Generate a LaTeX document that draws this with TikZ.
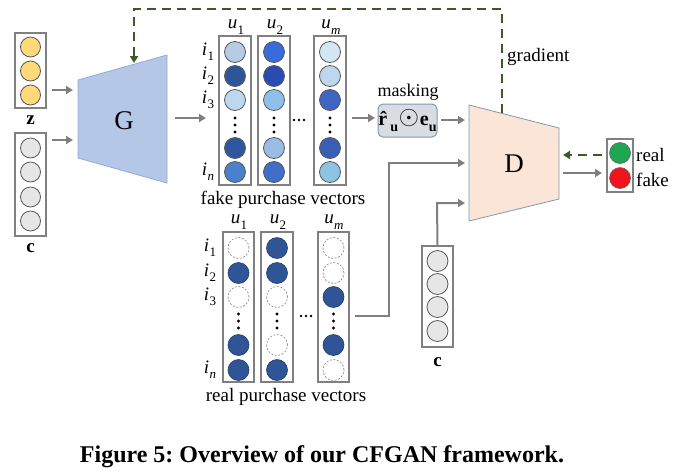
\documentclass[tikz,border=0pt]{standalone}
\usepackage{fontspec}
\setmainfont{Liberation Serif}
\usetikzlibrary{arrows.meta}
\definecolor{arrgray}{HTML}{7F7F7F}
\definecolor{boxgray}{HTML}{808080}
\definecolor{dgreen}{HTML}{3A5A26}
\definecolor{gfill}{HTML}{B4C7E7}
\definecolor{gdraw}{HTML}{8FAADC}
\definecolor{dfill}{HTML}{FBE5D6}
\definecolor{ddraw}{HTML}{8497B0}
\definecolor{yel}{HTML}{FFD97A}
\definecolor{lgray}{HTML}{E7E6E6}
\definecolor{mfill}{HTML}{D9DCE0}
\definecolor{rblue}{HTML}{2F5597}
\definecolor{fA}{HTML}{B7CCE4}
\definecolor{fB}{HTML}{2E5597}
\definecolor{fC}{HTML}{BDD7EE}
\definecolor{fD}{HTML}{30569F}
\definecolor{fE}{HTML}{4A80CC}
\definecolor{fF}{HTML}{3A6BDB}
\definecolor{fG}{HTML}{2A4CB0}
\definecolor{fH}{HTML}{8FC0EA}
\definecolor{fI}{HTML}{9ABDE5}
\definecolor{fJ}{HTML}{3F6FC8}
\definecolor{fK}{HTML}{D2E7F3}
\definecolor{fL}{HTML}{BDD7EE}
\definecolor{fM}{HTML}{3F64C4}
\definecolor{fN}{HTML}{3A5DB5}
\definecolor{fO}{HTML}{8CC4E4}
\newcommand{\txt}{\fontsize{19}{22}\selectfont}
\newcommand{\sub}[2]{#1\kern0.3pt\raisebox{-0.28em}{\fontsize{13}{13}\selectfont #2}}
\newcommand{\bsub}[2]{\textbf{#1}\raisebox{-0.3em}{\fontsize{14}{14}\selectfont\bfseries #2}}
\tikzset{
  colbox/.style={draw=boxgray, line width=1.2pt, fill=white, rectangle, inner sep=0pt},
  circ/.style={circle, draw=black!65, line width=0.8pt, minimum size=21pt, inner sep=0pt},
  rcirc/.style={circle, draw=rblue!70!black, line width=0.6pt, fill=rblue, minimum size=21pt, inner sep=0pt},
  ecirc/.style={circle, draw=black!50, line width=0.6pt, dash pattern=on 2pt off 1.6pt, minimum size=21pt, inner sep=0pt},
  garrow/.style={draw=arrgray, line width=2pt, -{Triangle[length=7pt,width=8pt]}},
  gradarrow/.style={draw=dgreen, line width=2.5pt, dash pattern=on 9pt off 6pt, -{Triangle[length=7pt,width=8pt]}},
  lbl/.style={inner sep=0pt, font=\txt},
  dotc/.style={circle, fill=black, inner sep=0pt, minimum size=3.2pt}
}
\begin{document}
\begin{tikzpicture}[x=1pt,y=-1pt]
\useasboundingbox (0,0) rectangle (680,475);

% ---------- z and c inputs of G ----------
\node[colbox, minimum width=31pt, minimum height=75pt] (zbox) at (30.5,70.5) {};
\foreach \yy [count=\k] in {47,71,95}
  \node[circ, fill=yel, minimum size=20pt] (z\k) at (30.5,\yy) {};
\node[lbl] (zlab) at (30.5,120) {\textbf{z}};
\node[colbox, minimum width=31pt, minimum height=103pt] (cbox) at (30.5,184.5) {};
\foreach \yy [count=\k] in {148,172,197,221}
  \node[circ, fill=lgray, minimum size=20pt] (c\k) at (30.5,\yy) {};
\node[lbl] (clab) at (30.5,248) {\textbf{c}};

% ---------- G ----------
\coordinate (G1) at (78,80);
\coordinate (G2) at (167,55);
\coordinate (G3) at (167,183);
\coordinate (G4) at (78,158);
\fill[gfill] (G1) -- (G2) -- (G3) -- (G4) -- cycle;
\draw[gdraw, line width=0.8pt] (G1) -- (G2) -- (G3) -- (G4) -- cycle;
\node[inner sep=0pt, font=\fontsize{27}{30}\selectfont] (Glab) at (124,121) {G};

\coordinate (zout) at (52,90);  \coordinate (Gin1) at (73,90);
\coordinate (cout) at (52,140); \coordinate (Gin2) at (73,140);
\draw[garrow] (zout) -- (Gin1);
\draw[garrow] (cout) -- (Gin2);
\coordinate (Gout) at (175,118); \coordinate (fin) at (206,118);
\draw[garrow] (Gout) -- (fin);

% ---------- fake purchase vectors ----------
\node[colbox, minimum width=32pt, minimum height=149pt] (fu1) at (235,110.5) {};
\node[colbox, minimum width=32pt, minimum height=149pt] (fu2) at (274,110.5) {};
\node[colbox, minimum width=32pt, minimum height=149pt] (fum) at (330,110.5) {};
\foreach \yy/\cc [count=\k] in {52/fA,76/fB,100/fC,148/fD,172/fE}
  \node[circ, fill=\cc] (fa\k) at (235,\yy) {};
\foreach \yy/\cc [count=\k] in {52/fF,76/fG,100/fH,148/fI,172/fJ}
  \node[circ, fill=\cc] (fb\k) at (274,\yy) {};
\foreach \yy/\cc [count=\k] in {52/fK,76/fL,100/fM,148/fN,172/fO}
  \node[circ, fill=\cc] (fc\k) at (330,\yy) {};
\foreach \xx/\nm in {235/a,274/b,330/c}
  \foreach \d/\yy in {1/118,2/125,3/132}
    \node[dotc] (fv\nm\d) at (\xx,\yy) {};
\foreach \d/\xx in {1/294,2/299,3/304}
  \node[dotc, minimum size=2.8pt] (fh\d) at (\xx,120) {};
\node[lbl] (fl1) at (236,27) {\sub{\textit{u}}{1}};
\node[lbl] (fl2) at (275,27) {\sub{\textit{u}}{2}};
\node[lbl] (flm) at (331,27) {\sub{\textit{u}}{\textit{m}}};
\node[lbl] (fi1) at (208,52) {\sub{\textit{i}}{1}};
\node[lbl] (fi2) at (208,76) {\sub{\textit{i}}{2}};
\node[lbl] (fi3) at (208,100) {\sub{\textit{i}}{3}};
\node[lbl] (fin2) at (208,172) {\sub{\textit{i}}{\textit{n}}};
\node[lbl] (fcap) at (283,200) {fake purchase vectors};

% ---------- masking ----------
\node[draw=ddraw, fill=mfill, line width=1pt, rounded corners=5pt, minimum width=59pt, minimum height=33pt, inner sep=0pt, font=\fontsize{20}{22}\selectfont] (mask) at (407.5,120.5)
  {\bsub{\^{r}}{u}\kern0.5pt\raisebox{0.02em}{\scalebox{1.25}{$\odot$}}\kern1pt\bsub{e}{u}};
\node[lbl, font=\fontsize{18}{20}\selectfont] (masklab) at (408,92) {masking};
\coordinate (fout) at (352,118); \coordinate (min) at (375,118);
\draw[garrow] (fout) -- (min);

% ---------- real purchase vectors ----------
\node[colbox, minimum width=31pt, minimum height=150pt] (ru1) at (238.5,307) {};
\node[colbox, minimum width=32pt, minimum height=150pt] (ru2) at (277,307) {};
\node[colbox, minimum width=31pt, minimum height=150pt] (rum) at (333.5,307) {};
\foreach \yy/\st [count=\k] in {248/ecirc,273/rcirc,297/ecirc,345/rcirc,370/rcirc}
  \node[\st] (ra\k) at (238.5,\yy) {};
\foreach \yy/\st [count=\k] in {248/rcirc,273/rcirc,297/ecirc,345/ecirc,370/rcirc}
  \node[\st] (rb\k) at (277,\yy) {};
\foreach \yy/\st [count=\k] in {248/ecirc,273/ecirc,297/rcirc,345/rcirc,370/ecirc}
  \node[\st] (rc\k) at (333.5,\yy) {};
\foreach \xx/\nm in {238.5/a,277/b,333.5/c}
  \foreach \d/\yy in {1/314,2/321,3/328}
    \node[dotc] (rv\nm\d) at (\xx,\yy) {};
\foreach \d/\xx in {1/301,2/306,3/311}
  \node[dotc, minimum size=2.8pt] (rh\d) at (\xx,316) {};
\node[lbl] (rl1) at (239,222) {\sub{\textit{u}}{1}};
\node[lbl] (rl2) at (278,222) {\sub{\textit{u}}{2}};
\node[lbl] (rlm) at (334,222) {\sub{\textit{u}}{\textit{m}}};
\node[lbl] (ri1) at (210,248) {\sub{\textit{i}}{1}};
\node[lbl] (ri2) at (210,273) {\sub{\textit{i}}{2}};
\node[lbl] (ri3) at (210,297) {\sub{\textit{i}}{3}};
\node[lbl] (rin) at (210,370) {\sub{\textit{i}}{\textit{n}}};
\node[lbl] (rcap) at (286,397) {real purchase vectors};

% ---------- c input of D ----------
\node[colbox, minimum width=31pt, minimum height=101pt] (cdbox) at (437.5,296.5) {};
\foreach \yy [count=\k] in {261,284,307,331}
  \node[circ, fill=lgray, minimum size=21pt] (cd\k) at (437.5,\yy) {};
\node[lbl] (cdlab) at (437.5,362) {\textbf{c}};

% ---------- D ----------
\coordinate (D1) at (469,105);
\coordinate (D2) at (559,128);
\coordinate (D3) at (559,199);
\coordinate (D4) at (469,221);
\fill[dfill] (D1) -- (D2) -- (D3) -- (D4) -- cycle;
\draw[ddraw, line width=0.8pt] (D1) -- (D2) -- (D3) -- (D4) -- cycle;
\node[inner sep=0pt, font=\fontsize{27}{30}\selectfont] (Dlab) at (514,164) {D};

\coordinate (mout) at (441,120); \coordinate (Din1) at (465,120);
\draw[garrow] (mout) -- (Din1);
\coordinate (rout) at (355,316); \coordinate (rbend) at (389,163); \coordinate (Din2) at (465,163);
\draw[garrow] (rout) -| (rbend) -- (Din2);
\coordinate (cdbend) at (437,203); \coordinate (Din3) at (465,203);
\draw[garrow] (cdbox.north) -- (cdbend) -- (Din3);

% ---------- output ----------
\node[colbox, minimum width=26pt, minimum height=53pt] (obox) at (620,165.5) {};
\node[circle, fill={rgb,255:red,30;green,166;blue,80}, draw=black!60, line width=0.6pt, minimum size=21pt, inner sep=0pt] (real) at (620,153) {};
\node[circle, fill={rgb,255:red,240;green,20;blue,30}, draw=black!60, line width=0.6pt, minimum size=21pt, inner sep=0pt] (fake) at (620,178) {};
\node[lbl, anchor=west] (reallab) at (636,155) {real};
\node[lbl, anchor=west] (fakelab) at (636,180) {fake};
\coordinate (Dout) at (563,173); \coordinate (oin) at (602,173);
\draw[garrow] (Dout) -- (oin);
\coordinate (oout) at (602,155); \coordinate (Dback) at (563,155);
\draw[gradarrow] (oout) -- (Dback);

% ---------- gradient ----------
\coordinate (Dtop) at (502,113);
\coordinate (gc1) at (502,9);
\coordinate (gc2) at (134,9);
\coordinate (Gtop) at (134,63);
\draw[gradarrow] (Dtop) -- (gc1) -- (gc2) -- (Gtop);
\node[lbl, anchor=west] (gradlab) at (507,57) {gradient};

% ---------- caption ----------
\node[inner sep=0pt, anchor=base, font=\fontsize{24}{28}\selectfont\bfseries] (caption) at (322,462) {\frenchspacing Figure 5: Overview of our CFGAN framework.};
\end{tikzpicture}
\end{document}
